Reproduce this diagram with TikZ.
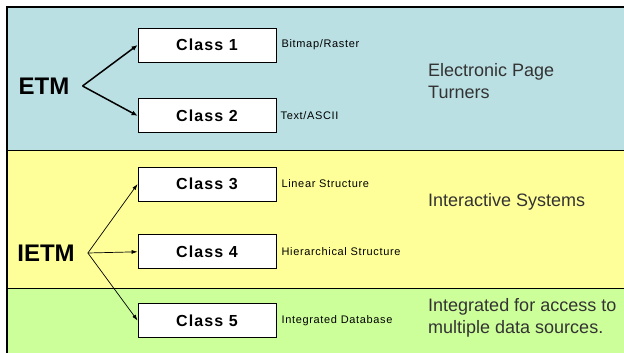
\documentclass[tikz,border=0pt]{standalone}
\usepackage{fontspec}
\setmainfont{Liberation Sans}
\usetikzlibrary{positioning,arrows.meta}
\definecolor{bandblue}{RGB}{187,224,227}
\definecolor{bandyellow}{RGB}{255,255,153}
\definecolor{bandgreen}{RGB}{204,255,153}
\tikzset{
  line/.style={-{Latex[length=6pt,width=5pt]}, line width=1.5pt},
  thinline/.style={-{Latex[length=6pt,width=4pt]}, line width=0.7pt},
  box/.style={draw, line width=0.8pt, fill=white, minimum width=138pt, minimum height=34pt,
    inner sep=0pt, font=\fontsize{16}{18}\selectfont\bfseries\addfontfeatures{LetterSpace=7}},
  tag/.style={anchor=west, inner sep=0pt, font=\fontsize{11}{13}\selectfont\addfontfeatures{LetterSpace=6}},
  group/.style={inner sep=0pt, font=\fontsize{24}{28}\selectfont\bfseries},
  note/.style={anchor=west, align=left, inner sep=0pt, text=black!80,
    font=\fontsize{18}{22}\selectfont}
}

\begin{document}
\begin{tikzpicture}[x=1pt,y=-1pt]
  \useasboundingbox (0,0) rectangle (624,353);
  \clip (0,0) rectangle (624,353);
  % three bands inside the frame
  \fill[bandblue] (7,7) rectangle (630,150);
  \fill[bandyellow] (7,150) rectangle (630,288);
  \fill[bandgreen] (7,288) rectangle (630,360);
  \draw[line width=1.2pt] (7,360) |- (630,7);
  \draw[line width=1pt] (7,150) -- (630,150);
  \draw[line width=1pt] (7,288) -- (630,288);

  % classes
  \node[box] (c1) at (207,45) {Class 1};
  \node[box, below=36pt of c1] (c2) {Class 2};
  \node[box] (c3) at (207,184) {Class 3};
  \node[box, below=33pt of c3] (c4) {Class 4};
  \node[box, below=34pt of c4] (c5) {Class 5};

  \node[tag, right=5pt of c1] (t1) {Bitmap/Raster};
  \node[tag, right=4pt of c2] (t2) {Text/ASCII};
  \node[tag, right=5pt of c3] (t3) {Linear Structure};
  \node[tag, right=5pt of c4] (t4) {Hierarchical Structure};
  \node[tag, right=5pt of c5] (t5) {Integrated Database};

  % ETM
  \node[group] (etm) at (44,86) {ETM};
  \coordinate[right=13pt of etm.east] (etmfork);
  \draw[line] (etmfork) -- (c1.west);
  \draw[line] (etmfork) -- (c2.west);

  % IETM
  \node[group] (ietm) at (46,253) {IETM};
  \coordinate[right=13pt of ietm.east] (ietmfork);
  \draw[thinline] (ietmfork) -- (c3.west);
  \draw[thinline] (ietmfork) -- (c4.west);
  \draw[thinline] (ietmfork) -- (c5.west);

  \node[note] (n1) at (428,81) {Electronic Page\\Turners};
  \node[note] (n2) at (428,202) {Interactive Systems};
  \node[note] (n3) at (428,318) {Integrated for access to\\multiple data sources.};
\end{tikzpicture}
\end{document}
